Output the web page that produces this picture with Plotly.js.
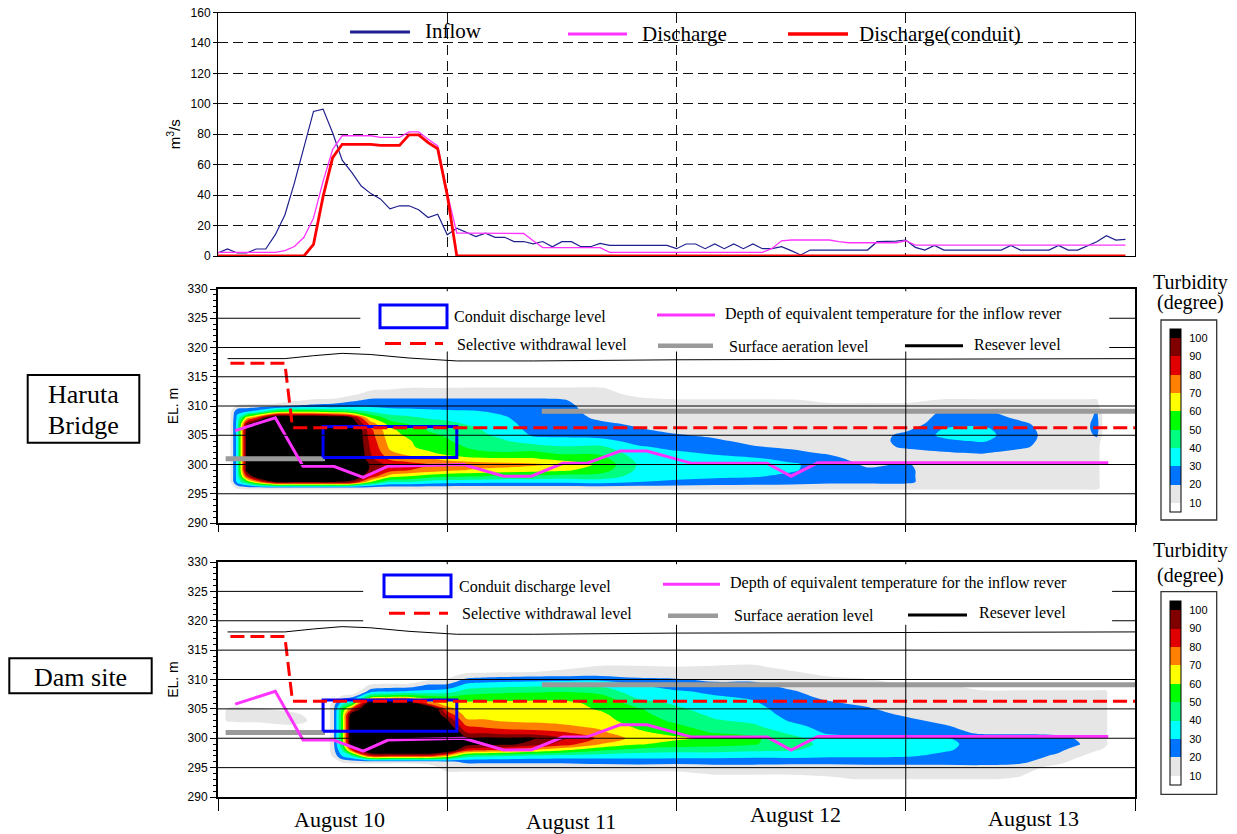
<!DOCTYPE html>
<html><head><meta charset="utf-8">
<script src="https://cdn.plot.ly/plotly-3.0.1.min.js"></script>
<style>html,body{margin:0;padding:0;background:#fff;}#chart{width:1237px;height:834px;}</style>
</head><body><div id="chart"></div>
<script>
// ---------------- data ----------------
const HOURS = [0,1,2,3,4,5,6,7,8,9,10,11,12,13,14,15,16,17,18,19,20,21,22,23,24,25,26,27,28,29,30,31,32,33,34,35,36,37,38,39,40,41,42,43,44,45,46,47,48,49,50,51,52,53,54,55,56,57,58,59,60,61,62,63,64,65,66,67,68,69,70,71,72,73,74,75,76,77,78,79,80,81,82,83,84,85,86,87,88,89,90,91,92,93,94,95];
const INFLOW = [2,4.6,2,2,4.6,4.6,14,27,48,72,95,96.5,81,63,55,46,41,37.5,31,33,33,30.4,25.3,27.5,13.9,18.3,15.7,12.8,15,12.3,12.3,9.5,9.5,8,9.5,6.1,9.4,9.4,6.1,6.1,8.3,7,7,7,7,7,7,7,4.8,7.9,7.9,4.8,7.9,4.8,7.9,4.8,7.9,4.8,4.8,6.1,3.5,0.7,3.9,3.9,3.9,3.9,3.9,3.9,3.9,9.4,9.5,9.8,10.5,5.7,3.9,7,3.9,3.9,3.9,3.9,3.9,3.9,3.9,7,3.9,3.9,3.9,3.9,7,3.9,3.9,6.5,9.4,13.3,10.5,10.9];
const DISCHARGE = [2.4,2.4,2.4,2.4,2.4,2.4,2.4,3.5,6.2,12.3,25,49,70,79,79,79,79,78,78,78,81.5,81.5,76.7,72.3,41.4,15,15,15,15,15,15,15,14.8,10,5.5,5.5,5.5,5.5,5.5,5.5,5.5,2.4,2.4,2.4,2.4,2.4,2.4,2.4,2.4,2.4,2.4,2.4,2.4,2.4,2.4,2.4,2.4,2.4,5,10,10.5,10.5,10.5,10.5,10.5,9.5,8.7,8.7,8.7,8.7,8.7,8.7,10,7.2,7.2,7.2,7.2,7.2,7.2,7.2,7.2,7.2,7.2,7.2,7.2,7.2,7.2,7.2,7.2,7.2,7.2,7.2,7.2,7.2,7.2,7.2];
const CONDUIT = [0,0,0,0,0,0,0,0,0,0,7.7,39,64.6,73.4,73.4,73.4,73.4,72.7,72.7,72.7,79.6,79.6,74.5,70.5,40,0,0,0,0,0,0,0,0,0,0,0,0,0,0,0,0,0,0,0,0,0,0,0,0,0,0,0,0,0,0,0,0,0,0,0,0,0,0,0,0,0,0,0,0,0,0,0,0,0,0,0,0,0,0,0,0,0,0,0,0,0,0,0,0,0,0,0,0,0,0,0];

const Y_TICKS_FLOW = [0,20,40,60,80,100,120,140,160];
const DAY_TICKS = [0,24,48,72,96];
const DAY_LABELS = ['August 10','August 11','August 12','August 13'];
const EL_GRID = [295,300,305,310,315,320,325];
const TURB_TICKS = [10,20,30,40,50,60,70,80,90,100];

// elevation rows of the turbidity grids (m)
const ELEV = [293,294,295,296,297,298,299,300,301,302,303,304,305,306,307,308,309,310,311,312,313,314];

// Haruta Bridge turbidity: one column per time (hours from Aug 10 0:00), values along ELEV
const HARUTA_T = [0,1,2,3,4,6,8,10,12,14,16,18,20,22,24,27,30,33,36,40,44,48,52,56,60,64,68,72,76,80,84,88,91,92,93,96];
const HARUTA_Z = [
 [0,0,0,0,0,0,0,0,0,0,0,0,0,0,0,0,0,0,0,0,0,0],
 [0,0,0,0,0,0,0,0,0,0,0,0,0,0,0,0,0,0,0,0,0,0],
 [0,0,0,12,32,34,34,34,34,34,34,34,34,34,34,32,28,12,0,0,0,0],
 [0,0,0,14,50,85,105,105,105,105,105,105,105,105,95,65,30,14,0,0,0,0],
 [0,0,0,14,70,110,115,115,115,115,115,115,115,115,110,80,35,15,0,0,0,0],
 [0,0,0,14,100,120,120,120,120,120,120,120,120,120,120,120,55,18,0,0,0,0],
 [0,0,0,14,100,120,120,120,120,120,120,120,120,120,120,120,60,21,8,0,0,0],
 [0,0,0,14,100,120,120,120,120,120,120,120,120,120,120,120,60,23,12,0,0,0],
 [0,0,0,14,100,120,120,120,120,120,120,120,120,120,120,115,55,24,13,0,0,0],
 [0,0,0,14,95,115,120,120,120,120,120,120,120,120,110,100,50,26,18,8,0,0],
 [0,0,0,14,60,88,97,98,92,90,88,86,84,82,75,60,40,28,22,14,8,0],
 [0,0,0,14,40,65,84,86,78,72,68,66,64,62,55,45,35,27,22,15,9,0],
 [0,0,0,14,40,60,80,84,74,66,62,61,58,55,49,42,34,27,22,15,11,0],
 [0,0,0,14,36,55,76,80,72,62,56,54,52,49,45,39,33,26,22,15,11,0],
 [0,0,0,14,34,52,72,78,66,56,53,51,49,46,42,38,32,26,22,15,11,0],
 [0,0,0,14,33,51,68,76,62,52,48,45,43,41,38,35,31,26,22,15,12,0],
 [0,0,0,14,32,48,66,74,61,51,44,41,37,35,33,31,28,25,22,15,12,0],
 [0,0,0,14,32,48,64,72,61,52,45,34,29,27,26,25,24,23,22,15,12,0],
 [0,0,0,14,32,46,62,68,56,48,41,32,29,27,26,25,24,23,21,15,12,0],
 [0,0,0,14,34,46,55,58,54,48,42,33,27,25,22,18,16,15,14,13,12,0],
 [0,0,0,14,30,36,38,39,37,34,31,27,24,21,18,16,15,14,12,8,0,0],
 [0,0,0,14,28,33,35,36,34,31,28,25,21,17,15,14,14,13,11,5,0,0],
 [0,0,0,14,26,32,34,34,32,29,26,22,18,15,14,14,14,13,11,5,0,0],
 [0,0,0,14,25,31,33,32,31,26,21,17,15,14,14,14,14,13,11,5,0,0],
 [0,0,0,14,24,28,31,31,28,23,18,15,14,14,14,14,14,13,11,0,0,0],
 [0,0,0,14,22,24,26,27,24,18,16,14,14,14,14,14,14,12,8,0,0,0],
 [0,0,0,14,22,23,22,18,14,14,14,14,14,14,14,14,14,12,8,0,0,0],
 [0,0,0,14,22,22,22,21,14,14,22,24,23,18,14,14,14,12,8,0,0,0],
 [0,0,0,14,14,14,14,14,14,19,24,28,32,31,26,23,21,13,11,5,0,0],
 [0,0,0,14,14,14,14,14,14,21,25,31,33,32,28,25,22,15,11,5,0,0],
 [0,0,0,14,14,14,14,14,14,16,22,24,25,24,22,18,14,13,11,5,0,0],
 [0,0,0,14,14,14,14,14,14,14,14,14,14,14,14,14,14,13,11,5,0,0],
 [0,0,0,14,14,14,14,14,14,14,14,14,16,18,18,16,14,13,11,5,0,0],
 [0,0,0,14,14,14,14,14,14,14,14,16,22,24,24,23,21,13,11,5,0,0],
 [0,0,0,0,0,0,0,0,0,0,0,0,0,0,0,0,0,0,0,0,0,0],
 [0,0,0,0,0,0,0,0,0,0,0,0,0,0,0,0,0,0,0,0,0,0]
];

// Dam site turbidity
const DAM_T = [0,1,4,8,10,11,12,13,14,16,18,20,22,24,26,28,30,33,36,40,44,48,52,56,60,64,68,72,76,80,84,88,90,92,93,94,96];
const DAM_Z = [
 [0,0,0,0,0,0,0,0,0,0,0,0,0,0,0,0,0,0,0,0,0,0],
 [0,0,0,0,0,0,0,0,0,0,12,13,11,0,0,0,0,0,0,0,0,0],
 [0,0,0,0,0,0,0,0,0,0,14,14,12,0,0,0,0,0,0,0,0,0],
 [0,0,0,0,0,0,0,0,0,8,14,13,5,0,0,0,0,0,0,0,0,0],
 [0,0,0,0,0,0,0,0,0,0,8,5,0,0,0,0,0,0,0,0,0,0],
 [0,0,0,0,0,0,0,0,0,0,0,0,0,0,0,0,0,0,0,0,0,0],
 [0,0,0,0,11,14,14,14,14,14,14,14,14,12,0,0,0,0,0,0,0,0],
 [0,0,0,12,30,41,51,55,55,55,55,55,51,35,14,0,0,0,0,0,0,0],
 [0,0,0,14,40,80,112,115,115,115,115,110,80,45,18,0,0,0,0,0,0,0],
 [0,0,0,14,85,120,125,125,125,125,125,125,125,115,55,25,12,0,0,0,0,0],
 [0,0,0,14,85,125,125,125,125,125,125,125,125,120,61,28,14,0,0,0,0,0],
 [0,0,0,14,85,125,125,125,125,125,125,125,125,115,61,31,14,0,0,0,0,0],
 [0,0,5,14,85,125,125,125,125,125,125,125,125,75,55,32,22,8,0,0,0,0],
 [0,8,14,18,70,115,125,125,120,108,102,88,74,64,52,35,22,12,0,0,0,0],
 [0,8,14,22,45,85,105,102,90,81,72,66,64,62,54,44,34,22,11,0,0,0],
 [0,8,14,22,42,81,104,102,88,78,71,66,64,62,55,46,36,24,12,0,0,0],
 [0,8,14,22,41,78,103,101,85,76,69,66,64,62,56,47,37,25,13,0,0,0],
 [0,8,14,22,38,70,96,101,84,74,68,66,64,62,57,48,38,26,14,0,0,0],
 [0,8,14,22,36,62,86,92,81,72,67,65,64,62,57,49,39,27,14,8,0,0],
 [0,8,14,24,35,52,70,78,72,68,64,62,59,58,54,46,38,28,15,12,6,0],
 [0,8,14,25,34,46,61,66,62,58,55,53,51,45,38,34,31,22,15,12,6,0],
 [0,8,14,24,34,44,56,62,56,52,48,45,42,38,34,31,25,21,14,11,5,0],
 [6,11,16,24,34,44,54,58,49,45,41,38,35,33,31,28,23,18,15,12,6,0],
 [6,11,16,24,33,42,51,52,47,42,38,35,33,31,29,26,23,18,15,12,8,0],
 [6,11,16,23,34,41,44,43,38,33,29,27,26,25,23,21,17,15,12,8,0,0],
 [8,12,16,23,32,36,37,34,28,26,25,24,23,21,18,15,14,12,8,0,0,0],
 [11,13,16,24,32,34,35,33,27,25,24,23,21,18,15,14,13,11,0,0,0,0],
 [11,13,16,24,31,33,34,32,28,24,22,19,16,15,14,13,12,0,0,0,0,0],
 [11,13,16,24,28,31,32,31,24,21,18,16,15,14,14,13,12,0,0,0,0,0],
 [11,13,17,24,26,27,27,25,18,16,15,14,14,14,13,11,5,0,0,0,0,0],
 [8,12,16,22,25,26,26,24,18,15,14,14,14,14,13,11,5,0,0,0,0,0],
 [0,0,5,14,18,22,24,23,17,15,14,14,14,14,13,11,5,0,0,0,0,0],
 [0,0,0,5,12,16,21,19,16,15,14,14,14,14,13,11,5,0,0,0,0,0],
 [0,0,0,0,4,11,13,14,14,14,14,14,14,14,13,11,5,0,0,0,0,0],
 [0,0,0,0,0,8,11,11,11,11,11,11,11,11,11,11,4,0,0,0,0,0],
 [0,0,0,0,0,0,0,0,0,0,0,0,0,0,0,0,0,0,0,0,0,0],
 [0,0,0,0,0,0,0,0,0,0,0,0,0,0,0,0,0,0,0,0,0,0]
];

// level lines (hours, m)
const SWL_T = [1.3, 7.0, 7.8, 96];
const SWL_EL = [317.3, 317.3, 306.3, 306.3];
const BOX_T = [11, 25, 25, 11, 11];
const BOX_EL = [301.2, 301.2, 306.5, 306.5, 301.2];
const AER_T = [0.8, 11.2, null, 33.9, 96];
const AER_EL = [301.0, 301.0, null, 309.1, 309.1];
const RES_T = [1, 7, 10, 13, 16, 20, 25, 33, 48, 72, 96];
const RES_EL = [318.1, 318.1, 318.6, 319.0, 318.8, 318.2, 317.7, 317.7, 317.9, 318.0, 318.1];
const EQT_T = [1.8, 6, 8.9, 12.1, 15.2, 17.8, 25.7, 29.9, 32.8, 36.1, 38.6, 42.1, 44.9, 47.3, 49.6, 57.5, 60, 62.8, 93.2];
const EQT_EL = [305.8, 308, 299.7, 299.7, 297.8, 299.7, 300, 298, 298, 300.2, 300.2, 302.3, 302.3, 301.2, 300.2, 300.2, 298, 300.3, 300.3];

// ---------------- styling / layout ----------------
const W = 1237, H = 834;
const px = v => v / W;
const py = v => 1 - v / H;
const SERIF = 'Liberation Serif, Times New Roman, serif';
const SANS = 'Liberation Sans, Arial, sans-serif';
const NAVY = '#1f1f8f', MAG = '#ff33ff', RED = '#ff0000', BLUE = '#0000ff', GRAY = '#9a9a9a';
const TURB_SCALE = [[0,'#ffffff'],[0.1,'#e6e6e6'],[0.2,'#0073ff'],[0.3,'#00ffff'],[0.4,'#00ff80'],[0.5,'#00ff00'],[0.6,'#ffff00'],[0.7,'#ff8000'],[0.8,'#e00000'],[0.9,'#800000'],[1,'#000000']];

const traces = [
  {x: HOURS, y: INFLOW, type:'scatter', mode:'lines', line:{color:NAVY, width:1.2}, xaxis:'x', yaxis:'y', hoverinfo:'skip'},
  {x: HOURS, y: DISCHARGE, type:'scatter', mode:'lines', line:{color:MAG, width:1.3}, xaxis:'x', yaxis:'y', hoverinfo:'skip'},
  {x: HOURS, y: CONDUIT, type:'scatter', mode:'lines', line:{color:RED, width:2.8}, xaxis:'x', yaxis:'y', hoverinfo:'skip'}
];

function panelTraces(T, Z, xa, ya, cbTopPx, cbLen) {
  return [
    {type:'contour', x:T, y:ELEV, z:Z, transpose:true, xaxis:xa, yaxis:ya, hoverinfo:'skip',
     autocontour:false, contours:{start:10, end:100, size:10, coloring:'fill', showlines:false},
     line:{width:0}, colorscale:TURB_SCALE, showscale:true,
     colorbar:{thickness:11, thicknessmode:'pixels', len:cbLen, lenmode:'pixels',
       x:px(1170), xanchor:'left', y:py(cbTopPx), yanchor:'top', xpad:0, ypad:0,
       outlinewidth:1, outlinecolor:'#000', tickvals:TURB_TICKS, ticks:'outside', ticklen:6,
       tickcolor:'rgba(0,0,0,0)', tickfont:{family:SANS, size:11, color:'#000'}}},
    {x:RES_T, y:RES_EL, type:'scatter', mode:'lines', line:{color:'#000', width:1}, xaxis:xa, yaxis:ya, hoverinfo:'skip'},
    {x:AER_T, y:AER_EL, type:'scatter', mode:'lines', line:{color:GRAY, width:5}, connectgaps:false, xaxis:xa, yaxis:ya, hoverinfo:'skip'},
    {x:BOX_T, y:BOX_EL, type:'scatter', mode:'lines', line:{color:BLUE, width:3}, xaxis:xa, yaxis:ya, hoverinfo:'skip'},
    {x:EQT_T, y:EQT_EL, type:'scatter', mode:'lines', line:{color:MAG, width:3}, xaxis:xa, yaxis:ya, hoverinfo:'skip'},
    {x:SWL_T, y:SWL_EL, type:'scatter', mode:'lines', line:{color:RED, width:3, dash:'14px,6px'}, xaxis:xa, yaxis:ya, hoverinfo:'skip'}
  ];
}
traces.push(...panelTraces(HARUTA_T, HARUTA_Z, 'x2', 'y2', 329, 183));
traces.push(...panelTraces(DAM_T, DAM_Z, 'x3', 'y3', 601, 184));

const xDom = [px(218), px(1135)];
const tickFont = {family:SANS, size:12, color:'#000'};
function elAxis(dom, anchor) {
  return {domain:dom, anchor:anchor, range:[290,330], tick0:290, dtick:5, showgrid:false, zeroline:false,
    ticks:'outside', ticklen:6, tickcolor:'#000', tickfont:tickFont,
    minor:{dtick:1, ticks:'outside', ticklen:3, tickcolor:'#000', showgrid:false},
    showline:true, linewidth:2, linecolor:'#000', mirror:true,
    title:{text:'EL. m', font:{family:SANS, size:14, color:'#000'}, standoff:6}};
}
function dayAxis(anchor, tl) {
  return {domain:xDom, anchor:anchor, range:[0,96], tickvals:DAY_TICKS, showticklabels:false,
    ticks:'outside', ticklen:tl, tickcolor:'#000', showgrid:false, zeroline:false,
    showline:true, linewidth:2, linecolor:'#000', mirror:true};
}

const shapes = [];
const annotations = [];
function seg(xref, yref, x0, y0, x1, y1, color, width, dash) {
  shapes.push({type:'line', xref, yref, x0, y0, x1, y1, layer:'above', line:{color, width, dash: dash || 'solid'}});
}
// grid lines drawn on top of the turbidity fields
[['x2','y2'],['x3','y3']].forEach(([xa, ya]) => {
  EL_GRID.forEach(v => seg(xa, ya, 0, v, 96, v, '#000', 1));
  DAY_TICKS.slice(1, -1).forEach(v => seg(xa, ya, v, 290, v, 330, '#000', 1));
});

// panel legends
function panelLegend(o) {
  shapes.push({type:'rect', xref:o.xa, yref:o.ya, x0:o.lx0, x1:o.lx1, y0:319.3, y1:329.6, layer:'above', fillcolor:'#fff', line:{width:0}});
  shapes.push({type:'rect', xref:'paper', yref:'paper', x0:px(o.box[0]), x1:px(o.box[1]), y0:py(o.box[3]), y1:py(o.box[2]), layer:'above', line:{color:BLUE, width:3}});
  seg('paper','paper', px(o.swl[0]), py(o.swl[2]), px(o.swl[1]), py(o.swl[2]), RED, 3, '16px,9px');
  seg('paper','paper', px(o.mag[0]), py(o.mag[2]), px(o.mag[1]), py(o.mag[2]), MAG, 3);
  seg('paper','paper', px(o.gry[0]), py(o.gry[2]), px(o.gry[1]), py(o.gry[2]), GRAY, 4.5);
  seg('paper','paper', px(o.blk[0]), py(o.blk[2]), px(o.blk[1]), py(o.blk[2]), '#000', 3);
  const f = {family:SERIF, size:16, color:'#000'};
  o.texts.forEach(t => annotations.push({xref:'paper', yref:'paper', x:px(t[1]), y:py(t[2]), text:t[0], showarrow:false, xanchor:'left', yanchor:'middle', font:f}));
}
panelLegend({xa:'x2', ya:'y2', lx0:14.9, lx1:93.3,
  box:[380,447,305,327.7], swl:[385,443,343.5], mag:[657,715,315], gry:[658,713,345.7], blk:[905,963,345.7],
  texts:[['Conduit discharge level',452,317],['Selective withdrawal level',455,344],
         ['Depth of equivalent temperature for the inflow rever',723,313.5],['Surface aeration level',727,346],['Resever level',972,344.5]]});
panelLegend({xa:'x3', ya:'y3', lx0:15.2, lx1:93.6,
  box:[384,451,575,596.7], swl:[389,448,613.3], mag:[663,720,584.3], gry:[668,718,615.7], blk:[908,967,615],
  texts:[['Conduit discharge level',457,586.7],['Selective withdrawal level',460,613],
         ['Depth of equivalent temperature for the inflow rever',728,583],['Surface aeration level',732,615],['Resever level',977,612.5]]});

// top legend
seg('paper','paper', px(350), py(32), px(410), py(32), NAVY, 3);
seg('paper','paper', px(568), py(34), px(627), py(34), MAG, 3);
seg('paper','paper', px(788), py(34), px(848), py(34), RED, 3.5);
[['Inflow',423,31],['Discharge',640,34],['Discharge(conduit)',857,34]].forEach(t =>
  annotations.push({xref:'paper', yref:'paper', x:px(t[1]), y:py(t[2]), text:t[0], showarrow:false, xanchor:'left', yanchor:'middle', font:{family:SERIF, size:21, color:'#000'}}));

// colorbar frames + titles
[[320,520,282,303],[591.7,794.3,550,575]].forEach(c => {
  shapes.push({type:'rect', xref:'paper', yref:'paper', x0:px(1161), x1:px(1216.7), y0:py(c[1]), y1:py(c[0]), layer:'above', line:{color:'#333', width:1.3}});
  annotations.push({xref:'paper', yref:'paper', x:px(1190), y:py(c[2]), text:'Turbidity', showarrow:false, xanchor:'center', yanchor:'middle', font:{family:SERIF, size:20, color:'#000'}});
  annotations.push({xref:'paper', yref:'paper', x:px(1190), y:py(c[3]), text:'(degree)', showarrow:false, xanchor:'center', yanchor:'middle', font:{family:SERIF, size:20, color:'#000'}});
});

// site labels
shapes.push({type:'rect', xref:'paper', yref:'paper', x0:px(27.7), x1:px(139.3), y0:py(442.7), y1:py(375), layer:'above', line:{color:'#000', width:2}});
shapes.push({type:'rect', xref:'paper', yref:'paper', x0:px(9.3), x1:px(151.7), y0:py(693.3), y1:py(658.3), layer:'above', line:{color:'#000', width:2}});
[['Haruta',83.5,395],['Bridge',83.5,425],['Dam site',80.5,677]].forEach(t =>
  annotations.push({xref:'paper', yref:'paper', x:px(t[1]), y:py(t[2]), text:t[0], showarrow:false, xanchor:'center', yanchor:'middle', font:{family:SERIF, size:26, color:'#000'}}));

// day labels
const dayPos = [[339,819],[571,821],[795,814],[1033,818]];
DAY_LABELS.forEach((d, i) =>
  annotations.push({xref:'paper', yref:'paper', x:px(dayPos[i][0]), y:py(dayPos[i][1]), text:d, showarrow:false, xanchor:'center', yanchor:'middle', font:{family:SERIF, size:22, color:'#000'}}));

const layout = {
  width:W, height:H, margin:{l:0, r:0, t:0, b:0}, paper_bgcolor:'#fff', plot_bgcolor:'#fff', showlegend:false,
  xaxis:{domain:xDom, anchor:'y', range:[0,96], tickvals:DAY_TICKS.slice(1,-1), showticklabels:false, ticks:'',
    showgrid:true, gridcolor:'#111', gridwidth:1, griddash:'10px,6px', zeroline:false,
    showline:true, linecolor:'#000', linewidth:1, mirror:true},
  yaxis:{domain:[py(256), py(12.5)], anchor:'x', range:[0,160], tickvals:Y_TICKS_FLOW, tickfont:tickFont,
    ticks:'outside', ticklen:4, tickcolor:'#000', showgrid:true, gridcolor:'#111', gridwidth:1, griddash:'10px,5px',
    zeroline:false, showline:true, linecolor:'#000', linewidth:1, mirror:true,
    title:{text:'m<sup>3</sup>/s', font:{family:SANS, size:15, color:'#000'}, standoff:6}},
  xaxis2:dayAxis('y2', 7),
  yaxis2:elAxis([py(523), py(289)], 'x2'),
  xaxis3:dayAxis('y3', 12),
  yaxis3:elAxis([py(797), py(562)], 'x3'),
  shapes, annotations
};

Plotly.newPlot('chart', traces, layout, {displayModeBar:false, staticPlot:true});
</script>
</body></html>
